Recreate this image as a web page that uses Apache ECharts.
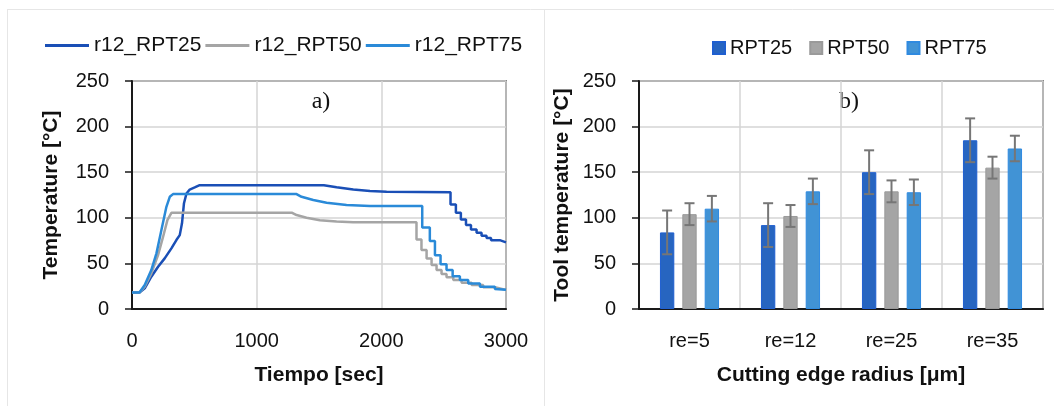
<!DOCTYPE html>
<html>
<head>
<meta charset="utf-8">
<script src="https://cdn.jsdelivr.net/npm/echarts@6/dist/echarts.min.js"></script>
<style>
html,body{margin:0;padding:0;background:#fff;}
#chart{width:1054px;height:406px;}
</style>
</head>
<body>
<div id="chart"></div>
<script>
// ---------- Panel a) : temperature vs time ----------
var lineNames = ['r12_RPT25', 'r12_RPT50', 'r12_RPT75'];
var time25 = [0,60,102,155,209,262,316,356,383,401,417,437,463,503,543,1539,1641,1775,1909,2042,2555,2555,2598,2598,2638,2638,2679,2679,2719,2719,2764,2764,2804,2804,2844,2844,2880,2880,2950,2950,3000];
var temp25 = [18,18,22.6,35.4,46.3,55.5,66.5,75.6,81,94,116,126.7,131,133.3,135.8,135.8,133.5,131,129.5,128.5,128,114.6,114.6,105.5,105.5,98.2,98.2,92,92,87.3,87.3,83.6,83.6,80.4,80.4,77.8,77.8,75.5,75.5,73.5,73];
var time50 = [0,60,102,155,209,249,284,316,1285,1320,1400,1507,1641,1775,2282,2282,2322,2322,2363,2363,2403,2403,2443,2443,2483,2483,2523,2523,2577,2577,2644,2644,2724,2724,2817,2817,2911,2911,3000];
var temp50 = [18,18,24.5,39,59,79,97.5,105.5,105.5,103,100,97.4,96,95.2,95,76.3,76.3,64.6,64.6,55.5,55.5,48.2,48.2,42.7,42.7,38.3,38.3,34.7,34.7,31.8,31.8,28.8,28.8,26.3,26.3,23.8,23.8,22.2,21];
var time75 = [0,60,102,155,196,236,276,303,329,1320,1360,1454,1561,1721,1909,2328,2328,2389,2389,2430,2430,2475,2475,2523,2523,2572,2572,2630,2630,2697,2697,2791,2791,2911,2911,3000];
var temp75 = [18,18,26.3,42.7,61,86.5,112,123,126,126,123,119.5,116.5,114,113,113,89.5,89.5,74.5,74.5,59,59,49,49,42.7,42.7,36,36,31.8,31.8,28,28,24.5,24.5,22,21];
var timeTicks = [0, 1000, 2000, 3000];

// ---------- Panel b) : bar chart ----------
var categories = ['re=5', 're=12', 're=25', 're=35'];
var barNames = ['RPT25', 'RPT50', 'RPT75'];
var rpt25 = [84, 92, 150, 185];
var rpt50 = [104, 102, 129, 155];
var rpt75 = [110, 129, 128, 176];
var err25 = [24, 24, 24, 24];
var err50 = [12, 12, 12, 12];
var err75 = [14, 14, 14, 14];

var tempTicks = [0, 50, 100, 150, 200, 250];

function pairs(t, v) { return t.map(function (x, i) { return [x, v[i]]; }); }
function errData(vals, errs) { return vals.map(function (v, i) { return [i, v - errs[i], v + errs[i]]; }); }

var FONT = "'Liberation Sans', Arial, sans-serif";
var lineColors = ['#1a4fb6', '#a5a5a5', '#2a8ad8'];
var barColors = ['#2765c0', '#a5a5a5', '#4193d5'];
var barBorders = ['#1f5fd0', '#9a9a9a', '#2f8ae0'];
var BAR_W = 0.142, BAR_GAP = 0.56;

function errRender(k) {
  return function (params, api) {
    var ci = api.value(0), lo = api.value(1), hi = api.value(2);
    var band = api.size([1, 0])[0];
    var bw = band * BAR_W, gap = bw * BAR_GAP;
    var off = (k - 1) * (bw + gap);
    var pLo = api.coord([ci, lo]), pHi = api.coord([ci, hi]);
    var x = pLo[0] + off;
    var st = { stroke: '#767676', lineWidth: 2 };
    return { type: 'group', children: [
      { type: 'line', shape: { x1: x, y1: pHi[1], x2: x, y2: pLo[1] }, style: st },
      { type: 'line', shape: { x1: x - 5, y1: pHi[1], x2: x + 5, y2: pHi[1] }, style: st },
      { type: 'line', shape: { x1: x - 5, y1: pLo[1], x2: x + 5, y2: pLo[1] }, style: st }
    ]};
  };
}

var yAxisCommon = function (gi, name, gap) {
  return {
    type: 'value', gridIndex: gi, min: tempTicks[0], max: tempTicks[tempTicks.length - 1], interval: 50,
    name: name, nameLocation: 'middle', nameGap: gap, nameRotate: 90,
    nameTextStyle: { fontFamily: FONT, fontSize: 21, fontWeight: 'bold', color: '#111' },
    axisLine: { show: true, lineStyle: { color: '#1a1a1a', width: 2 } },
    axisTick: { show: true, length: 7, lineStyle: { color: '#1a1a1a', width: 1.5 } },
    axisLabel: { fontFamily: FONT, fontSize: 20, color: '#111', margin: 23, formatter: function (v) { return String(v); } },
    splitLine: { show: true, lineStyle: { color: '#d4d4d4', width: 1.5 } }
  };
};

var option = {
  animation: false,
  backgroundColor: '#fff',
  legend: [
    {
      data: lineNames, left: 40, top: 30, itemWidth: 44, itemHeight: 3, itemGap: 4,
      icon: 'rect', textStyle: { fontFamily: FONT, fontSize: 21, color: '#111' }
    },
    {
      data: barNames, left: 707, top: 33, itemWidth: 12, itemHeight: 12, itemGap: 17,
      icon: 'rect', textStyle: { fontFamily: FONT, fontSize: 20, color: '#111' }
    }
  ],
  grid: [
    { left: 132, top: 81, width: 374, height: 228, show: true, borderColor: '#2a2a2a', borderWidth: 1.5, containLabel: false },
    { left: 639, top: 81, width: 404, height: 228, show: true, borderColor: '#2a2a2a', borderWidth: 1.5, containLabel: false }
  ],
  xAxis: [
    {
      type: 'value', gridIndex: 0, min: timeTicks[0], max: timeTicks[timeTicks.length - 1], interval: 1000,
      name: 'Tiempo [sec]', nameLocation: 'middle', nameGap: 56,
      nameTextStyle: { fontFamily: FONT, fontSize: 21, fontWeight: 'bold', color: '#111' },
      axisLine: { show: true, onZero: false, lineStyle: { color: '#1a1a1a', width: 2 } },
      axisTick: { show: false },
      axisLabel: { fontFamily: FONT, fontSize: 20, color: '#111', margin: 22, formatter: function (v) { return String(v); } },
      splitLine: { show: true, lineStyle: { color: '#d4d4d4', width: 1.5 } }
    },
    {
      type: 'category', gridIndex: 1, data: categories, boundaryGap: true,
      name: 'Cutting edge radius [μm]', nameLocation: 'middle', nameGap: 56,
      nameTextStyle: { fontFamily: FONT, fontSize: 21, fontWeight: 'bold', color: '#111' },
      axisLine: { show: true, onZero: false, lineStyle: { color: '#1a1a1a', width: 2 } },
      axisTick: { show: false },
      axisLabel: { fontFamily: FONT, fontSize: 20, color: '#111', margin: 22 },
      splitLine: { show: true, interval: 0, lineStyle: { color: '#d4d4d4', width: 1.5 } }
    }
  ],
  yAxis: [
    yAxisCommon(0, 'Temperature [°C]', 70),
    yAxisCommon(1, 'Tool temperature [°C]', 66)
  ],
  graphic: [
    { type: 'line', shape: { x1: 7, y1: 9.5, x2: 1054, y2: 9.5 }, style: { stroke: '#e6e6e6', lineWidth: 1 }, silent: true },
    { type: 'line', shape: { x1: 7.5, y1: 9, x2: 7.5, y2: 406 }, style: { stroke: '#e6e6e6', lineWidth: 1 }, silent: true },
    { type: 'line', shape: { x1: 544.5, y1: 9, x2: 544.5, y2: 406 }, style: { stroke: '#e6e6e6', lineWidth: 1 }, silent: true },
    { type: 'text', x: 321, y: 102, style: { text: 'a)', fontFamily: "'Liberation Serif', 'Times New Roman', serif", fontSize: 24, fill: '#111', textAlign: 'center', textVerticalAlign: 'middle' } },
    { type: 'text', x: 849, y: 102, style: { text: 'b)', fontFamily: "'Liberation Serif', 'Times New Roman', serif", fontSize: 24, fill: '#111', textAlign: 'center', textVerticalAlign: 'middle' } }
  ],
  series: [
    { name: lineNames[0], type: 'line', xAxisIndex: 0, yAxisIndex: 0, data: pairs(time25, temp25), symbol: 'none', lineStyle: { color: lineColors[0], width: 2.5 }, itemStyle: { color: lineColors[0] } },
    { name: lineNames[1], type: 'line', xAxisIndex: 0, yAxisIndex: 0, data: pairs(time50, temp50), symbol: 'none', lineStyle: { color: lineColors[1], width: 2.5 }, itemStyle: { color: lineColors[1] } },
    { name: lineNames[2], type: 'line', xAxisIndex: 0, yAxisIndex: 0, data: pairs(time75, temp75), symbol: 'none', lineStyle: { color: lineColors[2], width: 2.5 }, itemStyle: { color: lineColors[2] } },

    { name: barNames[0], type: 'bar', xAxisIndex: 1, yAxisIndex: 1, data: rpt25, barWidth: (BAR_W * 100) + '%', barGap: (BAR_GAP * 100) + '%', itemStyle: { color: barColors[0], borderColor: barBorders[0], borderWidth: 1 } },
    { name: barNames[1], type: 'bar', xAxisIndex: 1, yAxisIndex: 1, data: rpt50, barWidth: (BAR_W * 100) + '%', barGap: (BAR_GAP * 100) + '%', itemStyle: { color: barColors[1], borderColor: barBorders[1], borderWidth: 1 } },
    { name: barNames[2], type: 'bar', xAxisIndex: 1, yAxisIndex: 1, data: rpt75, barWidth: (BAR_W * 100) + '%', barGap: (BAR_GAP * 100) + '%', itemStyle: { color: barColors[2], borderColor: barBorders[2], borderWidth: 1 } },

    { type: 'custom', xAxisIndex: 1, yAxisIndex: 1, renderItem: errRender(0), data: errData(rpt25, err25), encode: { x: 0, y: [1, 2] }, z: 5, silent: true },
    { type: 'custom', xAxisIndex: 1, yAxisIndex: 1, renderItem: errRender(1), data: errData(rpt50, err50), encode: { x: 0, y: [1, 2] }, z: 5, silent: true },
    { type: 'custom', xAxisIndex: 1, yAxisIndex: 1, renderItem: errRender(2), data: errData(rpt75, err75), encode: { x: 0, y: [1, 2] }, z: 5, silent: true }
  ]
};

var chart = echarts.init(document.getElementById('chart'), null, { renderer: 'canvas' });
chart.setOption(option);
</script>
</body>
</html>
